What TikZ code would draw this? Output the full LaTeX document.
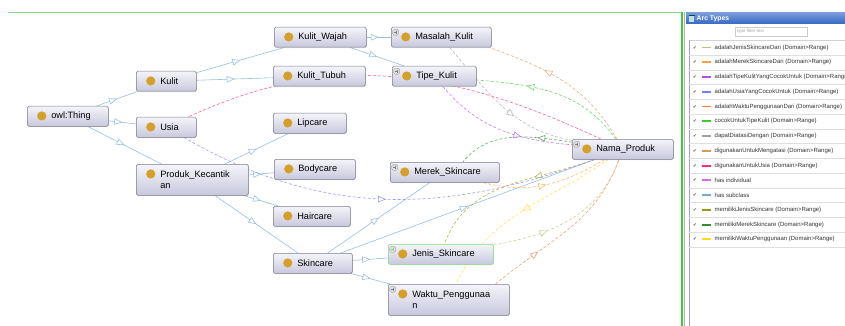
\documentclass[tikz,border=0pt]{standalone}
\usepackage{fontspec}
\setmainfont{Liberation Sans}
\newfontfamily\symfont{DejaVu Sans}
\usetikzlibrary{arrows.meta, decorations.markings, backgrounds, shadows}
\hyphenpenalty=10000
\exhyphenpenalty=10000

\definecolor{boxtop}{HTML}{F4F4FA}
\definecolor{boxbot}{HTML}{C8C8DE}
\definecolor{boxline}{HTML}{7C7C8C}
\definecolor{gold}{HTML}{D4A02A}
\definecolor{selgreen}{HTML}{80DC80}
\definecolor{framegreen}{HTML}{3CC83C}
\definecolor{titleblue}{HTML}{3568C4}
% arc type colours
\definecolor{jenisdari}{HTML}{C2C27A}
\definecolor{merekdari}{HTML}{FFA040}
\definecolor{tipecocok}{HTML}{B450E6}
\definecolor{usiacocok}{HTML}{7B7BFF}
\definecolor{waktudari}{HTML}{E8823C}
\definecolor{cocoktipe}{HTML}{30D030}
\definecolor{diatasi}{HTML}{A0A0A0}
\definecolor{mengatasi}{HTML}{D89A5A}
\definecolor{untukusia}{HTML}{FF2A78}
\definecolor{individual}{HTML}{D070E0}
\definecolor{subclass}{HTML}{78A8D8}
\definecolor{memjenis}{HTML}{9A9A10}
\definecolor{memmerek}{HTML}{2E8E2E}
\definecolor{memwaktu}{HTML}{FFD820}

\newcommand\clsdot{\fill[gold] ([shift={(14.5pt,-9.7pt)}]path picture bounding box.north west) circle (4.6pt);}
\newcommand\clsplus{%
  \draw[draw=gray, fill=black!12, line width=.3pt] ([shift={(1.5pt,-2pt)}]path picture bounding box.north west) rectangle ++(6pt,-6pt);
  \draw[line width=.5pt] ([shift={(4.5pt,-3.3pt)}]path picture bounding box.north west) -- ++(0pt,-3.4pt)
    ([shift={(2.8pt,-5pt)}]path picture bounding box.north west) -- ++(3.4pt,0pt);}

\begin{document}
\begin{tikzpicture}[x=1pt, y=-1pt,
    cls/.style={rectangle, draw=boxline, line width=.5pt, rounded corners=1.5pt,
        top color=boxtop, bottom color=boxbot, anchor=north west,
        inner xsep=24pt, inner ysep=5pt, minimum height=20pt, align=left,
        font=\fontsize{9.2}{11.5}\selectfont,
        drop shadow={shadow xshift=.8pt, shadow yshift=-.8pt, opacity=.25},
        path picture={\clsdot}},
    exp/.style={cls, path picture={\clsdot\clsplus}},
    sub/.style={draw=subclass!75, line width=.6pt, postaction={decorate},
        decoration={markings, mark=at position .5 with
            {\arrow{Triangle[length=8pt, width=6.5pt, color=subclass!75, fill=white]}}}},
    prop/.style args={#1 at #2}{draw=#1!75, line width=.6pt, dash pattern=on 3pt off 2pt,
        postaction={decorate},
        decoration={markings, mark=at position #2 with
            {\arrow{Triangle[length=8pt, width=6.5pt, color=#1!75, fill=white]}}}},
    chk/.style={inner sep=0pt, font=\symfont\fontsize{4.5}{5}\selectfont, text=black!70},
    legtext/.style={anchor=west, inner sep=0pt, font=\fontsize{6}{7}\selectfont, text=black!80}]

    \useasboundingbox (0,0) rectangle (845,326);

    % 1. Frame of the graph view
    \draw[framegreen!60, line width=1pt] (8,12.5) -- (682,12.5);
    \draw[framegreen, line width=1.3pt] (682,12) -- (682,326);

    % 2. Classes
    \node[cls, text width=33pt] (thing) at (27,106) {owl:Thing};
    \node[cls, text width=12pt] (kulit) at (136,71) {Kulit};
    \node[cls, text width=12pt] (usia) at (136,117) {Usia};
    \node[cls, text width=64pt, minimum height=31pt] (produk) at (136,164) {Produk\_Kecantik\\an};
    \node[cls, text width=44pt] (kulitwajah) at (274,27) {Kulit\_Wajah};
    \node[cls, text width=44pt] (kulittubuh) at (273,66) {Kulit\_Tubuh};
    \node[cls, text width=25pt] (lipcare) at (273,113) {Lipcare};
    \node[cls, text width=33pt] (bodycare) at (274,159) {Bodycare};
    \node[cls, text width=29pt] (haircare) at (273,206) {Haircare};
    \node[cls, text width=31pt] (skincare) at (273,253) {Skincare};
    \node[exp, text width=52pt] (masalah) at (391,27) {Masalah\_Kulit};
    \node[exp, text width=36pt] (tipe) at (392,66) {Tipe\_Kulit};
    \node[exp, text width=61pt] (merek) at (390,162) {Merek\_Skincare};
    \node[exp, text width=57pt, draw=selgreen] (jenis) at (388,244) {Jenis\_Skincare};
    \node[exp, text width=73pt, minimum height=31pt] (waktu) at (388,284) {Waktu\_Penggunaa\\n};
    \node[exp, text width=53pt] (nama) at (572,139) {Nama\_Produk};

    \begin{scope}[on background layer]
        % 3. has subclass
        \foreach \a/\b in {thing/kulit, thing/usia, thing/produk, kulit/kulitwajah,
            kulit/kulittubuh, kulitwajah/masalah, kulitwajah/tipe, produk/lipcare,
            produk/bodycare, produk/haircare, produk/skincare, skincare/merek,
            skincare/jenis, skincare/waktu, skincare/nama}
            \draw[sub] (\a) -- (\b);

        % 4. Object properties
        \draw[prop=mengatasi at .63] (nama) to[out=120, in=-20] ([xshift=-2pt]masalah.south east);
        \draw[prop=cocoktipe at .68] (nama) to[out=125, in=-5] (tipe);
        \draw[prop=untukusia at .5] (nama) to[out=155, in=25] (usia);
        \draw[prop=diatasi at .6] (masalah) to[out=-50, in=170] (nama);
        \draw[prop=tipecocok at .65] (tipe) to[out=-50, in=175] (nama);
        \draw[prop=memmerek at .3] (nama) to[out=172, in=50] ([xshift=18pt]merek.north);
        \draw[prop=merekdari at .5] (merek) to[out=-15, in=210] (nama);
        \draw[prop=memjenis at .35] (nama) to[out=200, in=70] (jenis);
        \draw[prop=jenisdari at .35] (jenis) to[out=10, in=250] (nama);
        \draw[prop=memwaktu at .5] (nama) to[out=215, in=65] (waktu);
        \draw[prop=waktudari at .3] ([xshift=-14pt]waktu.north east) to[out=40, in=250] (nama);
        \draw[prop=usiacocok at .5] (usia) to[out=-30, in=200] (nama);
    \end{scope}

    % 5. Arc Types panel
    \draw[gray!60] (684.5,12) -- (684.5,326);
    \fill[top color=titleblue!65, bottom color=titleblue] (686,12.5) rectangle (845,24);
    \fill[white!75!teal] (689,15.5) rectangle (694,22);
    \draw[teal!60!black, line width=.4pt] (688.5,15.5) -- (694.5,15.5);
    \node[anchor=west, inner sep=0pt, text=white, font=\bfseries\fontsize{6.8}{8}\selectfont] (arctitle) at (696.5,18.4) {Arc Types};
    \draw[gray!40, line width=.4pt] (735,27) rectangle (807,36);
    \node[anchor=west, inner sep=0pt, text=gray!70, font=\fontsize{4.5}{5}\selectfont] (filter) at (737,31.5) {type filter text};
    \draw[gray!35] (689,40.2) -- (845,40.2);
    \draw[blue!25!gray!60] (689,40.2) -- (689,326);

    \begin{scope}
        \clip (686,12) rectangle (845,326);
        \foreach \c/\t [count=\i] in {
            jenisdari/adalahJenisSkincareDari (Domain>Range),
            merekdari/adalahMerekSkincareDari (Domain>Range),
            tipecocok/adalahTipeKulitYangCocokUntuk (Domain>Range),
            usiacocok/adalahUsiaYangCocokUntuk (Domain>Range),
            waktudari/adalahWaktuPenggunaanDari (Domain>Range),
            cocoktipe/cocokUntukTipeKulit (Domain>Range),
            diatasi/dapatDiatasiDengan (Domain>Range),
            mengatasi/digunakanUntukMengatasi (Domain>Range),
            untukusia/digunakanUntukUsia (Domain>Range),
            individual/has individual,
            subclass/has subclass,
            memjenis/memilikiJenisSkincare (Domain>Range),
            memmerek/memilikiMerekSkincare (Domain>Range),
            memwaktu/memilikiWaktuPenggunaan (Domain>Range)} {
            \pgfmathsetmacro\ry{47.6+14.75*(\i-1)}
            \node[chk] (chk\i) at (695,\ry) {✔};
            \draw[draw=\c, line width=1.8pt] (701.5,\ry) -- (711,\ry);
            \node[legtext] (arc\i) at (714.5,\ry) {\t};
            \draw[gray!25] (689,\ry+7.4) -- (845,\ry+7.4);
        }
    \end{scope}

\end{tikzpicture}
\end{document}
